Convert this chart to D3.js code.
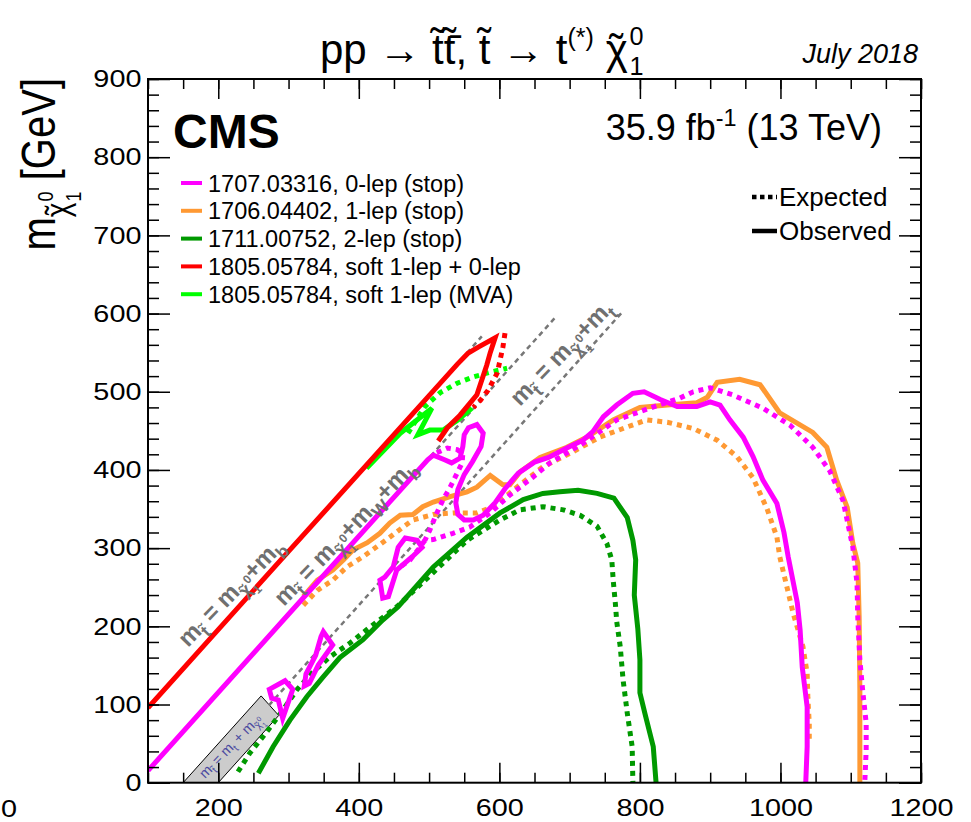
<!DOCTYPE html>
<html>
<head>
<meta charset="utf-8">
<script src="https://cdn.jsdelivr.net/npm/d3@7"></script>
<style>
body { margin: 0; background: #fff; }
text { font-family: "Liberation Sans", Arial, Helvetica, sans-serif; fill: #000; }
</style>
</head>
<body>
<div id="plot"></div>
<script>
// ticks
let xMajor = [200, 400, 600, 800, 1000, 1200];
let yMajor = [0, 100, 200, 300, 400, 500, 600, 700, 800, 900];
let xMinor = d3.range(100, 1201, 50);
let yMinor = d3.range(0, 901, 20);

// legend
let legendLabels = ['1707.03316, 0-lep (stop)', '1706.04402, 1-lep (stop)', '1711.00752, 2-lep (stop)',
  '1805.05784, soft 1-lep + 0-lep', '1805.05784, soft 1-lep (MVA)'];
let legendColors = ['#ff00ff', '#ff9933', '#009900', '#ff0000', '#00ff00'];

// contours, [m_stop, m_LSP] in GeV
let zeroLepObs = [[100,15.4],[300,215.4],[498,413],[506,419],[522,413],[532,409],[544,415],[548,430],[550,445],[556,454],
  [568,458],[577,447],[574,430],[562,411],[550,394],[541,375],[538,358],[541,343],[550,336],[563,336],[577,342],[594,358],
  [608,376],[627,396],[650,410],[670,416],[696,428],[719,438],[733,449],[748,468],[767,483],[790,498],[806,500],[829,490],
  [853,481],[881,481],[900,487],[914,483],[928,464],[947,442],[961,417],[975,387],[995,357],[1005,320],[1011,289],[1024,230],
  [1028,195],[1031,148],[1038,97],[1038,46],[1036,0]];
let zeroLepIsland1 = [[430,259],[434,236],[442,238],[454,272],[476,289],[490,301],[483,310],[466,313],[456,301],[449,276],[437,263]];
let zeroLepIsland2 = [[349.5,193],[362.8,176],[342.3,150.5],[329.5,127],[322.4,123.7],[324.8,139],[338.6,163],[346.2,186.7]];
let zeroLepIsland3 = [[272.6,119.4],[295,130.4],[306,119.4],[291.7,82.4],[285.4,105.8],[276,108]];
let zeroLepExp = [[511,422],[526,428],[540,426],[548,421],[547,409],[540,396],[530,378],[520,362],[511,345],[501,323],[494,310],
  [506,311],[534,319],[558,327],[587,345],[615,368],[648,391],[672,409],[719,434],[767,464],[814,479],[857,492],[876,500],
  [900,505],[932,496],[975,479],[1014,457],[1046,429],[1070,399],[1089,361],[1103,301],[1109,255],[1110,212],[1113,157],
  [1117,118],[1122,76],[1122,42],[1120,0]];
let zeroLepExpTail = [[494,310],[487,301],[473,285],[459,276]];

let oneLepObs = [[321,238],[341,259],[363,272],[378,285],[392,298],[412,307],[430,319],[444,332],[459,342],[477,343],[491,353],
  [506,359],[530,366],[554,372],[568,378],[587,393],[605,381],[615,381],[630,398],[658,416],[696,429],[725,442],[762,464],
  [800,480],[839,483],[881,486],[896,493],[910,512],[942,516],[971,509],[999,473],[1046,448],[1066,429],[1080,387],[1095,352],
  [1103,306],[1110,281],[1112,212],[1113,118],[1113,0]];
let oneLepExp = [[321,227],[341,246],[363,259],[383,276],[406,289],[426,302],[444,314],[463,327],[477,336],[506,343],[534,345],
  [568,345],[591,353],[625,378],[662,404],[700,421],[743,442],[782,455],[810,464],[839,461],[876,453],[910,438],[938,417],
  [961,390],[981,350],[995,314],[999,289],[1018,217],[1032,174],[1038,140],[1039,109],[1041,76],[1041,55]];

let twoLepObs = [[257,12],[278,46],[302,80],[326,110],[349,135],[373,160],[406,183],[434,208],[456,225],[506,276],[554,314],
  [601,345],[634,362],[662,370],[686,372],[712,374],[739,370],[763,364],[782,339],[790,310],[794,285],[792,240],[797,197],
  [800,157],[800,115],[807,89],[819,46],[823,0]];
let twoLepExp = [[228,14],[245,38],[269,65],[292,93],[312,119],[335,142],[359,161],[388,179],[416,199],[454,225],[505,268],
  [554,310],[601,336],[629,349],[662,353],[691,349],[715,342],[739,328],[753,306],[760,285],[762,259],[765,230],[767,206],
  [772,174],[776,132],[782,89],[789,46],[790,0]];

let softObs = [[100,95.8],[300,295.8],[500,495],[540,535],[555,549],[570,557],[594,569],[587,550],[582,534],[568,496],
  [544,470],[526,454],[513,437]];
let softExp = [[608,575],[605,557],[597,524],[584,502],[573,489],[563,480]];

let mvaObs = [[411,402],[459,447],[504,479],[484,445],[501,451],[520,451],[541,464],[561,479]];
let mvaExp = [[470,447],[494,481],[516,499],[540,511],[563,519],[587,525],[611,530]];

// kinematic lines m_LSP = m_stop - offset
let diagOffsets = [4.2, 84.6, 173];
let diagStart = [100, 100, 272];
let diagEnd = [575, 682, 775];
let topBox = [[150,0],[200,0],[286,86],[261,111]];

let width = 971, height = 822;
let svg = d3.select('#plot').append('svg').attr('width', width).attr('height', height);

let x = d3.scaleLinear().domain([100, 1200]).range([148, 921]);
let y = d3.scaleLinear().domain([0, 900]).range([782.7, 79]);

let line = d3.line().x(d => x(d[0])).y(d => y(d[1]));
let loop = d3.line().x(d => x(d[0])).y(d => y(d[1])).curve(d3.curveLinearClosed);

svg.append('clipPath').attr('id', 'clip').append('rect')
  .attr('x', x(100)).attr('y', y(900)).attr('width', x(1200) - x(100)).attr('height', y(0) - y(900));

let plot = svg.append('g').attr('clip-path', 'url(#clip)');

// tex-like text from parts [string, shift(em, + is down), scale, dx(em)]
function rich(sel, parts, fs) {
  let shift = 0;
  parts.forEach(p => {
    let ts = sel.append('tspan').text(p[0]).style('font-size', (fs * (p[2] || 1)) + 'px');
    if (p[1] !== shift) ts.attr('dy', (p[1] - shift) * fs);
    if (p[3]) ts.attr('dx', p[3] * fs);
    shift = p[1];
  });
}
// chi with a tilde put over it by hand
function chiT(sc, sh) {
  return [['\u02DC', sh, sc, sc * 0.085], ['χ', sh, sc, -sc * 0.418]];
}
let chi = chiT(0.75, 0.3).concat([['0', -0.05, 0.5, 0.03], ['1', 0.55, 0.5, -0.28]]);

// top box
plot.append('path').attr('d', loop(topBox)).attr('fill', '#cccccc').attr('stroke', '#000').attr('stroke-width', 1);

// gray dashed lines
diagOffsets.forEach((o, i) => {
  plot.append('path').attr('d', line([[diagStart[i], diagStart[i] - o], [diagEnd[i], diagEnd[i] - o]]))
    .attr('fill', 'none').attr('stroke', '#777').attr('stroke-width', 2.5).attr('stroke-dasharray', '5,4');
});

let labelParts = [
  [['m', 0, 1], ['t\u0303', 0.3, 0.75], [' = m', 0, 1]].concat(chi, [['+m', 0, 1], ['b', 0.3, 0.75]]),
  [['m', 0, 1], ['t\u0303', 0.3, 0.75], [' = m', 0, 1]].concat(chi, [['+m', 0, 1], ['W', 0.3, 0.75], ['+m', 0, 1], ['b', 0.3, 0.75]]),
  [['m', 0, 1], ['t\u0303', 0.3, 0.75], [' = m', 0, 1]].concat(chi, [['+m', 0, 1], ['t', 0.3, 0.75]])
];
let labelPos = [[188, 648], [284, 607], [520, 407]];
labelParts.forEach((p, i) => {
  let t = svg.append('text').attr('transform', `translate(${labelPos[i][0]},${labelPos[i][1]}) rotate(-46)`)
    .style('fill', '#707070').style('font-weight', 'bold');
  rich(t, p, 24);
});
let boxText = svg.append('text').attr('transform', 'translate(205,779) rotate(-46)').style('fill', '#4a4aa0');
rich(boxText, [['m', 0, 1], ['t\u0303', 0.3, 0.75], [' = m', 0, 1], ['t', 0.3, 0.75], [' + m', 0, 1]].concat(chi), 14);

// contours
function curve(data, color, dotted, closed) {
  plot.append('path').attr('d', closed ? loop(data) : line(data))
    .attr('fill', 'none').attr('stroke', color).attr('stroke-width', 5)
    .attr('stroke-dasharray', dotted ? '5,5' : null);
}
curve(twoLepExp, legendColors[2], true);
curve(twoLepObs, legendColors[2], false);
curve(oneLepExp, legendColors[1], true);
curve(oneLepObs, legendColors[1], false);
curve(zeroLepExp, legendColors[0], true);
curve(zeroLepExpTail, legendColors[0], true);
curve(zeroLepObs, legendColors[0], false);
curve(zeroLepIsland1, legendColors[0], false, true);
curve(zeroLepIsland2, legendColors[0], false, true);
curve(zeroLepIsland3, legendColors[0], false, true);
curve(mvaExp, legendColors[4], true);
curve(mvaObs, legendColors[4], false);
curve(softExp, legendColors[3], true);
curve(softObs, legendColors[3], false);

// axes
function styleAxis(g) {
  g.select('.domain').remove();
  g.selectAll('line').attr('stroke', '#000').attr('stroke-width', 1.5);
  g.selectAll('text').attr('font-family', null).style('font-size', '24px').attr('transform', 'scale(1.2,1)');
  g.attr('font-family', null).attr('font-size', null);
}
svg.append('g').attr('transform', `translate(0,${y(0)})`)
  .call(d3.axisBottom(x).tickValues(xMajor).tickSize(-20).tickPadding(16).tickFormat(d3.format('d'))).call(styleAxis);
svg.append('g').attr('transform', `translate(0,${y(0)})`)
  .call(d3.axisBottom(x).tickValues(xMinor).tickSize(-10).tickFormat('')).call(styleAxis);
svg.append('g').attr('transform', `translate(0,${y(900)})`)
  .call(d3.axisTop(x).tickValues(xMajor).tickSize(-20).tickFormat('')).call(styleAxis);
svg.append('g').attr('transform', `translate(0,${y(900)})`)
  .call(d3.axisTop(x).tickValues(xMinor).tickSize(-10).tickFormat('')).call(styleAxis);
svg.append('g').attr('transform', `translate(${x(100)},0)`)
  .call(d3.axisLeft(y).tickValues(yMajor).tickSize(-22).tickPadding(5.5)).call(styleAxis);
svg.append('g').attr('transform', `translate(${x(100)},0)`)
  .call(d3.axisLeft(y).tickValues(yMinor).tickSize(-11).tickFormat('')).call(styleAxis);
svg.append('g').attr('transform', `translate(${x(1200)},0)`)
  .call(d3.axisRight(y).tickValues(yMajor).tickSize(-22).tickFormat('')).call(styleAxis);
svg.append('g').attr('transform', `translate(${x(1200)},0)`)
  .call(d3.axisRight(y).tickValues(yMinor).tickSize(-11).tickFormat('')).call(styleAxis);

svg.append('rect').attr('x', x(100)).attr('y', y(900)).attr('width', x(1200) - x(100)).attr('height', y(0) - y(900))
  .attr('fill', 'none').attr('stroke', '#000').attr('stroke-width', 2);

// stray label at left edge
svg.append('text').attr('transform', 'translate(1,817) scale(1.2,1)')
  .style('font-size', '24px').text('0');

// title
let title = svg.append('text').attr('x', 320).attr('y', 64);
rich(title, [['pp → t\u0303t\u0303\u0304,  t\u0303 → t', 0, 1], ['(*)', -0.42, 0.6], ['  ', 0, 1]]
  .concat(chiT(1, 0), [['0', -0.45, 0.6, 0.04], ['1', 0.25, 0.6, -0.334]]), 42);
svg.append('text').attr('x', 918).attr('y', 63).attr('text-anchor', 'end')
  .style('font-size', '27px').style('font-style', 'italic').text('July 2018');

// y title
let yt = svg.append('text').attr('transform', 'translate(55,78) scale(1.2,1) rotate(-90)').attr('text-anchor', 'end');
rich(yt, [['m', 0, 1]].concat(chiT(0.7, 0.3), [['0', -0.05, 0.45, 0.03], ['1', 0.55, 0.45, -0.25], [' [GeV]', 0, 1]]), 40);

svg.append('text').attr('x', 173).attr('y', 148).style('font-size', '48px').style('font-weight', 'bold').text('CMS');

let lumi = svg.append('text').attr('x', 882).attr('y', 140).attr('text-anchor', 'end');
rich(lumi, [['35.9 fb', 0, 1], ['-1', -0.38, 0.65], [' (13 TeV)', 0, 1]], 36);

// legend
let leg = svg.append('g');
legendLabels.forEach((l, i) => {
  let yy = 183 + i * 27.8;
  leg.append('line').attr('x1', 181).attr('x2', 202).attr('y1', yy).attr('y2', yy)
    .attr('stroke', legendColors[i]).attr('stroke-width', 4);
  leg.append('text').attr('x', 208).attr('y', yy + 8.5).style('font-size', '23.5px').text(l);
});
let styleLabels = ['Expected', 'Observed'];
styleLabels.forEach((l, i) => {
  let yy = 197 + i * 34;
  leg.append('line').attr('x1', 752).attr('x2', 777).attr('y1', yy).attr('y2', yy)
    .attr('stroke', '#000').attr('stroke-width', 4.5).attr('stroke-dasharray', i === 0 ? '4.5,3.5' : null);
  leg.append('text').attr('x', 779).attr('y', yy + 9).style('font-size', '26px').text(l);
});
</script>
</body>
</html>
